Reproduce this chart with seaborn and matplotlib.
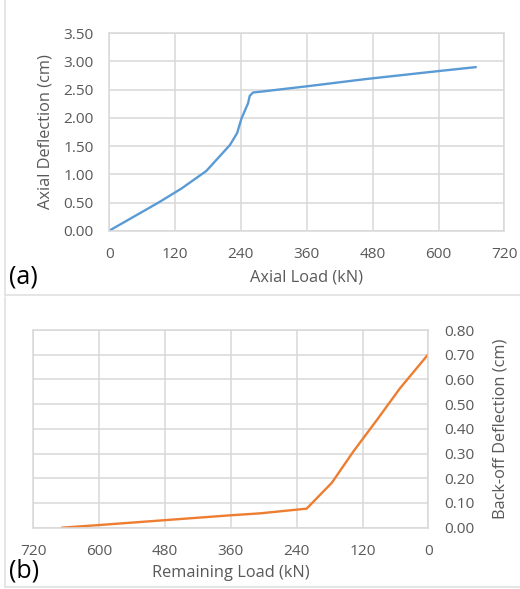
import matplotlib
matplotlib.use("Agg")
import matplotlib.pyplot as plt
import seaborn as sns
import pandas as pd
from matplotlib.lines import Line2D

# Panel (a): axial load vs axial deflection
axial_load = [0, 90, 132, 177, 220, 233, 241, 253, 256, 262, 272, 360, 469, 600, 668]
axial_defl = [0.00, 0.50, 0.75, 1.06, 1.52, 1.73, 1.99, 2.26, 2.39, 2.45, 2.46, 2.56, 2.69, 2.83, 2.90]

# Panel (b): remaining load vs back-off deflection
remaining_load = [668, 598, 477, 355, 307, 222, 176, 137, 94, 52, 0]
backoff_defl = [0.000, 0.011, 0.031, 0.051, 0.058, 0.077, 0.182, 0.308, 0.436, 0.564, 0.703]

x_ticks = [0, 120, 240, 360, 480, 600, 720]
y_ticks_a = [0.0, 0.5, 1.0, 1.5, 2.0, 2.5, 3.0, 3.5]
y_ticks_b = [0.0, 0.1, 0.2, 0.3, 0.4, 0.5, 0.6, 0.7, 0.8]

sns.set_style("white")
plt.rcParams['font.family'] = ['Open Sans', 'DejaVu Sans']

GRID = "#d9d9d9"
TICK = "#595959"
FS = 11.1
LFS = 11.8

fig = plt.figure(figsize=(5.2, 5.89), dpi=100)
ax1 = fig.add_axes([0.210, 0.6083, 0.760, 0.3352])
ax2 = fig.add_axes([0.064, 0.1041, 0.760, 0.3356])

df_a = pd.DataFrame({"load": axial_load, "defl": axial_defl})
df_b = pd.DataFrame({"load": remaining_load, "defl": backoff_defl})

sns.lineplot(data=df_a, x="load", y="defl", ax=ax1, color="#5b9bd5", linewidth=1.7,
             sort=False, estimator=None)
sns.lineplot(data=df_b, x="load", y="defl", ax=ax2, color="#ed7d31", linewidth=1.7,
             sort=False, estimator=None)

for ax in (ax1, ax2):
    ax.grid(True, color=GRID, linewidth=1.1)
    ax.set_axisbelow(True)
    for s in ax.spines.values():
        s.set_color(GRID)
        s.set_linewidth(1.1)
    ax.tick_params(length=0, labelsize=FS, labelcolor=TICK)

ax1.set_xlim(0, 720)
ax1.set_ylim(0, 3.5)
ax1.set_xticks(x_ticks)
ax1.set_yticks(y_ticks_a)
ax1.set_yticklabels([f"{v:.2f}" for v in y_ticks_a])
ax1.tick_params(axis="x", pad=12)
ax1.tick_params(axis="y", pad=11)
ax1.set_xlabel("Axial Load (kN)", fontsize=LFS, color=TICK, labelpad=5)
ax1.set_ylabel("Axial Deflection (cm)", fontsize=LFS, color=TICK, labelpad=7)

ax2.set_xlim(720, 0)
ax2.set_ylim(0, 0.8)
ax2.set_xticks(x_ticks)
ax2.set_yticks(y_ticks_b)
ax2.set_yticklabels([f"{v:.2f}" for v in y_ticks_b])
ax2.yaxis.tick_right()
ax2.yaxis.set_label_position("right")
ax2.tick_params(axis="x", pad=12)
ax2.tick_params(axis="y", pad=11)
ax2.set_xlabel("Remaining Load (kN)", fontsize=LFS, color=TICK, labelpad=4)
ax2.set_ylabel("Back-off Deflection (cm)", fontsize=LFS, color=TICK, labelpad=13)

fig.text(0.017, 0.530, "(a)", fontsize=18, color="black", va="center", ha="left")
fig.text(0.017, 0.031, "(b)", fontsize=18, color="black", va="center", ha="left")

# panel borders
for coords in [([0.0096, 0.0096], [1.0, 0.499]),
               ([0.0096, 1.0], [0.499, 0.499]),
               ([0.0096, 0.0096], [0.496, 0.004]),
               ([0.0096, 1.0], [0.004, 0.004])]:
    fig.add_artist(Line2D(coords[0], coords[1], color="#e0e0e0", linewidth=1.2,
                          transform=fig.transFigure))

fig.savefig("out.png", dpi=100)
